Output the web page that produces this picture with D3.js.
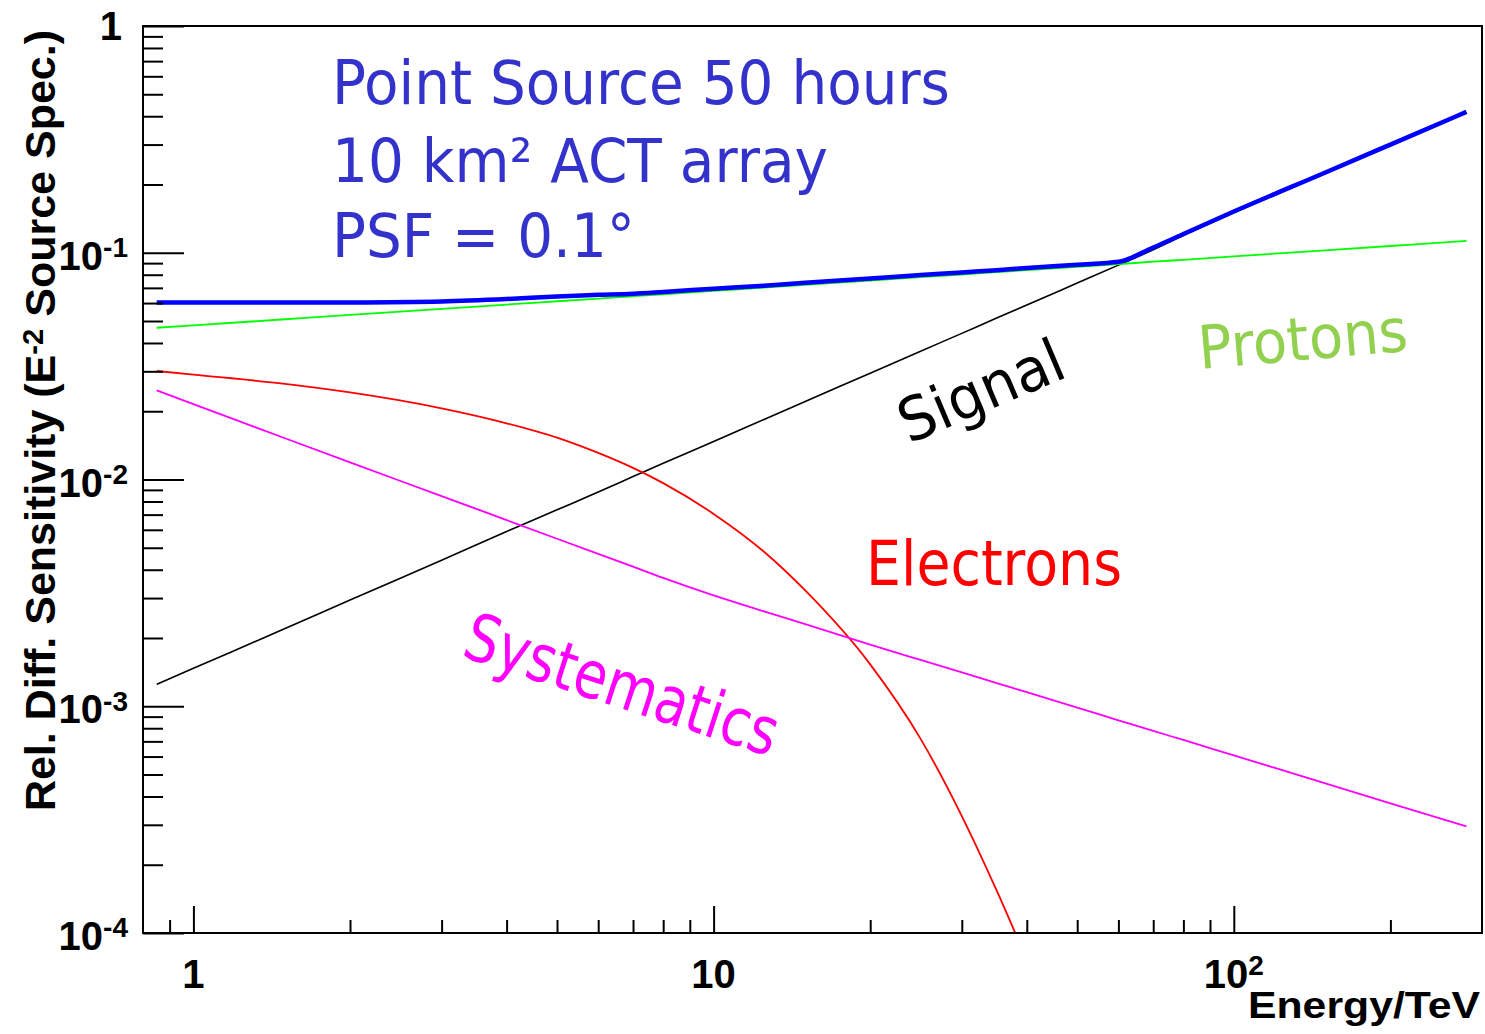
<!DOCTYPE html>
<html>
<head>
<meta charset="utf-8">
<script src="https://cdn.jsdelivr.net/npm/d3@7"></script>
<style>
  body { margin: 0; background: #fff; }
</style>
</head>
<body>
<svg id="chart" width="1485" height="1034"></svg>
<script>
/* Data (Energy in TeV, relative sensitivity) */
const energies    = [0.85, 1, 1.5, 2, 3, 4, 5, 6, 7, 8, 10, 12.5, 15, 20, 25, 30, 35, 40, 50, 60, 70, 80, 100, 150, 200, 280]
const signal      = [0.00125, 0.00147, 0.0022, 0.00294, 0.0044, 0.0059, 0.00735, 0.0088, 0.0103, 0.0118, 0.0147, 0.0184, 0.0221, 0.0294, 0.0368, 0.0441, 0.0515, 0.0588, 0.0735, 0.0882, 0.103, 0.119, 0.15, 0.224, 0.297, 0.415]
const protons     = [0.0467, 0.0478, 0.0509, 0.0532, 0.0565, 0.0591, 0.0611, 0.0628, 0.0643, 0.0656, 0.0679, 0.0702, 0.0722, 0.0754, 0.078, 0.0802, 0.0821, 0.0838, 0.0867, 0.0891, 0.0913, 0.0931, 0.0964, 0.1025, 0.1071, 0.1127]
const electrons   = [0.0301, 0.029, 0.0264, 0.0242, 0.0206, 0.0177, 0.0153, 0.0131, 0.01125, 0.00964, 0.00705, 0.0048, 0.00324, 0.00153, 0.000718, 0.000328, 0.000154, 0.000076, null, null, null, null, null, null, null, null]
const systematics = [0.0247, 0.0215, 0.0152, 0.0119, 0.00845, 0.00662, 0.00548, 0.0047, 0.00413, 0.00368, 0.00308, 0.00262, 0.0023, 0.00187, 0.0016, 0.00141, 0.001265, 0.001153, 0.000986, 0.000867, 0.000778, 0.00071, 0.000607, 0.000457, 0.000373, 0.000295]
const total       = [0.0603, 0.0603, 0.0603, 0.0604, 0.061, 0.0625, 0.0642, 0.0652, 0.066, 0.0672, 0.0694, 0.0716, 0.0737, 0.077, 0.0797, 0.0819, 0.0838, 0.0856, 0.0886, 0.0912, 0.1055, 0.121, 0.152, 0.226, 0.3, 0.418]

/* Tick labels */
const xTickValues = [1, 10, 100]
const xTickLabels = [["1", ""], ["10", ""], ["10", "2"]]
const yTickValues = [1e-4, 1e-3, 1e-2, 1e-1, 1]
const yTickLabels = [["10", "-4"], ["10", "-3"], ["10", "-2"], ["10", "-1"], ["1", ""]]

const series = [
  { name: "signal",      values: signal,      color: "#000000", width: 1.6 },
  { name: "protons",     values: protons,     color: "#00ff00", width: 1.8 },
  { name: "electrons",   values: electrons,   color: "#ff0000", width: 1.8 },
  { name: "systematics", values: systematics, color: "#ff00ff", width: 1.8 },
  { name: "total",       values: total,       color: "#0000ff", width: 4.5 },
]

const svg = d3.select("#chart")
const plot = { left: 143, right: 1482, top: 26, bottom: 933 }

const x = d3.scaleLog().domain([0.8, 300]).range([plot.left, plot.right])
const y = d3.scaleLog().domain([1e-4, 1]).range([plot.bottom, plot.top])

svg.append("rect").attr("width", 1485).attr("height", 1034).attr("fill", "#fff")

svg.append("defs").append("clipPath")
    .attr("id", "plot-clip")
  .append("rect")
    .attr("x", plot.left)
    .attr("y", plot.top)
    .attr("width", plot.right - plot.left)
    .attr("height", plot.bottom - plot.top)

/* Curves */
const line = d3.line()
    .defined(d => d[1] != null)
    .x(d => x(d[0]))
    .y(d => y(d[1]))
    .curve(d3.curveMonotoneX)

const curves = svg.append("g").attr("clip-path", "url(#plot-clip)")
series.forEach(s => {
  curves.append("path")
      .attr("d", line(energies.map((e, i) => [e, s.values[i]])))
      .attr("fill", "none")
      .attr("stroke", s.color)
      .attr("stroke-width", s.width)
      .attr("stroke-linejoin", "round")
})

/* Axes: ticks point inwards, ROOT style */
const inside = v => v > x.domain()[0] * 1.001 && v < x.domain()[1] * 0.999
const xMinor = x.ticks().filter(v => inside(v) && !xTickValues.includes(v))
const yMinor = y.ticks().filter(v => !yTickValues.some(t => Math.abs(t - v) / t < 1e-6))

const xAxis = svg.append("g").attr("transform", `translate(0,${plot.bottom})`)
xAxis.call(d3.axisBottom(x).tickValues(xTickValues).tickSizeInner(-27).tickSizeOuter(0).tickFormat(""))
xAxis.append("g").call(d3.axisBottom(x).tickValues(xMinor).tickSizeInner(-13).tickSizeOuter(0).tickFormat(""))
xAxis.selectAll(".domain").remove()

const yAxis = svg.append("g").attr("transform", `translate(${plot.left},0)`)
yAxis.call(d3.axisLeft(y).tickValues(yTickValues).tickSizeInner(-41).tickSizeOuter(0).tickFormat(""))
yAxis.append("g").call(d3.axisLeft(y).tickValues(yMinor).tickSizeInner(-20).tickSizeOuter(0).tickFormat(""))
yAxis.selectAll(".domain").remove()

svg.selectAll(".tick line").attr("stroke", "#000").attr("stroke-width", 2)

svg.append("rect")
    .attr("x", plot.left)
    .attr("y", plot.top)
    .attr("width", plot.right - plot.left)
    .attr("height", plot.bottom - plot.top)
    .attr("fill", "none")
    .attr("stroke", "#000")
    .attr("stroke-width", 2)

/* Tick labels with superscripts */
const labelFont = "'Liberation Sans', Arial, Helvetica, sans-serif"
const powerText = (sel, parts) => {
  sel.append("tspan").text(parts[0])
  if (parts[1]) {
    sel.append("tspan")
        .attr("dy", "-0.45em")
        .attr("font-size", "0.7em")
        .text(parts[1])
  }
}

xTickValues.forEach((v, i) => {
  const t = svg.append("text")
      .attr("x", x(v))
      .attr("y", 988)
      .attr("text-anchor", "middle")
      .attr("font-family", labelFont)
      .attr("font-weight", "bold")
      .attr("font-size", 40)
  powerText(t, xTickLabels[i])
})

yTickValues.forEach((v, i) => {
  const isPow = yTickLabels[i][1] !== ""
  const t = svg.append("text")
      .attr("x", isPow ? 128 : 122)
      .attr("y", y(v) + (isPow ? 17 : 14))
      .attr("text-anchor", "end")
      .attr("font-family", labelFont)
      .attr("font-weight", "bold")
      .attr("font-size", 40)
  powerText(t, yTickLabels[i])
})

/* Axis titles */
svg.append("text")
    .attr("x", 1480)
    .attr("y", 1018)
    .attr("text-anchor", "end")
    .attr("font-family", labelFont)
    .attr("font-weight", "bold")
    .attr("font-size", 37)
    .attr("textLength", 232)
    .attr("lengthAdjust", "spacingAndGlyphs")
    .text("Energy/TeV")

const yTitle = svg.append("text")
    .attr("transform", "translate(55,30) rotate(-90)")
    .attr("text-anchor", "end")
    .attr("font-family", labelFont)
    .attr("font-weight", "bold")
    .attr("font-size", 43)
yTitle.append("tspan").text("Rel. Diff. Sensitivity (E")
yTitle.append("tspan").attr("dy", "-0.42em").attr("font-size", "0.68em").text("-2")
yTitle.append("tspan").attr("dy", "0.29em").text(" Source Spec.)")

/* Annotations */
const noteFont = "Tahoma, Verdana, 'DejaVu Sans', sans-serif"
const note = (txt, px, py, angle, size, len, color) => {
  svg.append("text")
      .attr("transform", `translate(${px},${py}) rotate(${angle})`)
      .attr("font-family", noteFont)
      .attr("font-size", size)
      .attr("fill", color)
      .attr("textLength", len)
      .attr("lengthAdjust", "spacingAndGlyphs")
      .text(txt)
}

note("Point Source 50 hours", 332, 104, 0, 60, 618, "#3333cc")
note("10 km² ACT array", 332, 182, 0, 60, 496, "#3333cc")
note("PSF = 0.1°", 332, 257, 0, 60, 303, "#3333cc")

note("Signal", 909, 444, -23, 60, 174, "#000000")
note("Protons", 1200, 369, -5, 60, 210, "#92d050")
note("Electrons", 866, 585, 0, 62, 256, "#ff0000")
note("Systematics", 460, 656, 18, 66, 326, "#ff00ff")
</script>
</body>
</html>
